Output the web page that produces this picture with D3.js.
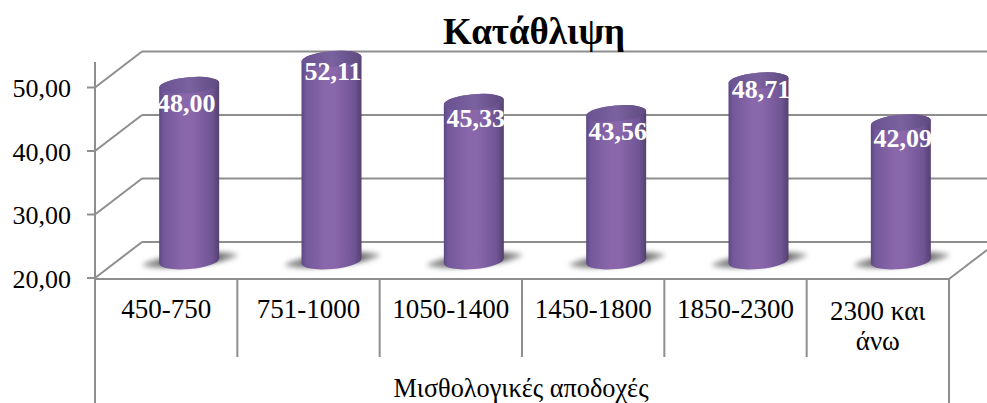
<!DOCTYPE html>
<html><head><meta charset="utf-8">
<script src="https://cdn.jsdelivr.net/npm/d3@7"></script>
<style>html,body{margin:0;padding:0;background:#fff;overflow:hidden}svg{display:block;font-family:"Liberation Serif",serif}</style>
</head><body><div id="chart"></div>
<script>
const categories=["450-750","751-1000","1050-1400","1450-1800","1850-2300","2300 και|άνω"];
const values=[48.00,52.11,45.33,43.56,48.71,42.09];
const valueLabels=["48,00","52,11","45,33","43,56","48,71","42,09"];
const yTicks=[20,30,40,50];
const yTickLabels=["20,00","30,00","40,00","50,00"];
const chartTitle="Κατάθλιψη";
const axisTitle="Μισθολογικές αποδοχές";

// layout only: hand placement of the data labels relative to each bar top
const labelDx=[-3,1.5,2,1.5,2.5,2];
const labelDy=[27,21,25,26.5,17,24];

const W=987,H=403,grid="#8e8e8e";
const depth={x:47,y:-36},barDepth={x:24,y:-15};
const y=d3.scaleLinear().domain([20,50]).range([278,87.5]);
const x=d3.scaleBand().domain(categories).range([95,949]);
const svg=d3.select("#chart").append("svg").attr("width",W).attr("height",H);
const defs=svg.append("defs");
const g=defs.append("linearGradient").attr("id","cyl");
[[0,"#5c4780"],[.07,"#72589a"],[.4,"#8a67ab"],[.55,"#8a67ab"],[.88,"#6f5594"],[1,"#544070"]].forEach(s=>g.append("stop").attr("offset",s[0]).attr("stop-color",s[1]));
const t=defs.append("linearGradient").attr("id","cap");
[[0,"#6a5190"],[.5,"#7a62a0"],[1,"#5f4a80"]].forEach(s=>t.append("stop").attr("offset",s[0]).attr("stop-color",s[1]));
const sg=defs.append("linearGradient").attr("id","shade");
[[0,"#b0b0b0"],[.3,"#5e5e5e"],[.75,"#5e5e5e"],[1,"#c0c0c0"]].forEach(s=>sg.append("stop").attr("offset",s[0]).attr("stop-color",s[1]));
defs.append("filter").attr("id","sh").attr("x","-30%").attr("y","-100%").attr("width","160%").attr("height","300%")
  .append("feGaussianBlur").attr("stdDeviation",2.5);

const line=(x1,y1,x2,y2)=>svg.append("line").attr("x1",x1).attr("y1",y1).attr("x2",x2).attr("y2",y2).attr("stroke",grid).attr("stroke-width",2);
yTicks.forEach(v=>{
  line(x.range()[0]+depth.x,y(v)+depth.y,W,y(v)+depth.y);
  line(x.range()[0],y(v),x.range()[0]+depth.x,y(v)+depth.y);
  line(x.range()[0]-8,y(v),x.range()[0],y(v));
});
line(95,62,95,H);
line(95,279,949,279);
line(949,279,949,H);
line(949,279,W,250);
categories.slice(1).forEach(c=>line(x(c),279,x(c),357));

const bars=svg.selectAll("g.bar").data(categories).join("g").attr("class","bar");
const cx=(c)=>x(c)+x.bandwidth()/2+barDepth.x-1;
const rx=30,ry=8,tilt=-5;
bars.append("ellipse").attr("rx",rx+18).attr("ry",6)
  .attr("transform",c=>`translate(${cx(c)+1},${y(20)+barDepth.y-3}) rotate(-6)`)
  .attr("fill","url(#shade)").attr("filter","url(#sh)");
bars.append("path").attr("fill","url(#cyl)").attr("d",(c,i)=>{
  const top=y(values[i])+barDepth.y,bot=y(20)+barDepth.y-2,l=cx(c)-rx,r=cx(c)+rx,d=2.6;
  return `M${l},${top+d}L${l},${bot+d}A${rx},${ry} ${tilt} 0 0 ${r},${bot-d}L${r},${top-d}A${rx},${ry} ${tilt} 0 0 ${l},${top+d}Z`;
});
bars.append("ellipse").attr("rx",rx).attr("ry",ry).attr("fill","url(#cap)")
  .attr("transform",(c,i)=>`translate(${cx(c)},${y(values[i])+barDepth.y}) rotate(${tilt})`);

bars.append("text").attr("x",(c,i)=>cx(c)+labelDx[i]).attr("y",(c,i)=>y(values[i])+barDepth.y+labelDy[i]).attr("text-anchor","middle")
  .attr("font-size",26).attr("font-weight","bold").attr("fill","#fff").text((c,i)=>valueLabels[i]);

svg.selectAll("text.yt").data(yTicks).join("text").attr("class","yt").attr("x",71).attr("y",v=>y(v)+9.5)
  .attr("text-anchor","end").attr("font-size",26).attr("fill","#000").text((v,i)=>yTickLabels[i]);

svg.selectAll("g.cat").data(categories).join("g").attr("class","cat").each(function(c){
  const parts=c.split("|");
  d3.select(this).selectAll("text").data(parts).join("text").attr("x",x(c)+x.bandwidth()/2)
    .attr("y",(p,i)=>(parts.length>1?320:318)+i*30).attr("text-anchor","middle").attr("font-size",27).attr("fill","#000").text(p=>p);
});
svg.append("text").attr("x",521).attr("y",397).attr("text-anchor","middle").attr("font-size",26.3).text(axisTitle);
svg.append("text").attr("x",534).attr("y",44).attr("text-anchor","middle").attr("font-size",37).attr("font-weight","bold").text(chartTitle);
</script></body></html>
